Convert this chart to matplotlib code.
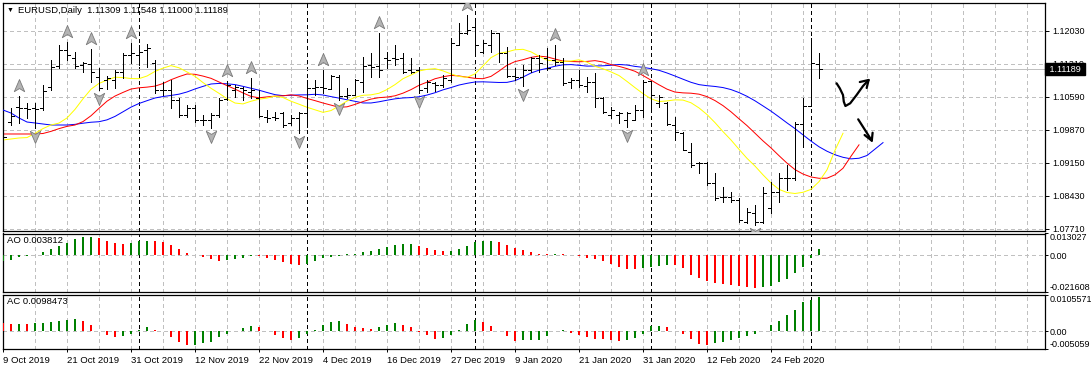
import numpy as np
import matplotlib
matplotlib.use("Agg")
import matplotlib.pyplot as plt
from matplotlib.path import Path
import matplotlib.transforms as mtransforms

plt.rcParams['font.family'] = ['Liberation Sans', 'DejaVu Sans']

# ---------------- data ----------------
date_labels = ['9 Oct 2019', '21 Oct 2019', '31 Oct 2019', '12 Nov 2019', '22 Nov 2019',
               '4 Dec 2019', '16 Dec 2019', '27 Dec 2019', '9 Jan 2020', '21 Jan 2020',
               '31 Jan 2020', '12 Feb 2020', '24 Feb 2020']
date_bars = [0, 8, 16, 24, 32, 40, 48, 56, 64, 72, 80, 88, 96]
month_separators = [17, 38, 59, 81, 101]

opens = [1.09752, 1.10035, 1.10362, 1.10340, 1.10340, 1.10340, 1.10798, 1.11256, 1.11605, 1.11431,
         1.11278, 1.11300, 1.11016, 1.10951, 1.10951, 1.11125, 1.11496, 1.11496, 1.11605, 1.11322,
         1.10733, 1.10733, 1.10515, 1.10188, 1.10340, 1.10079, 1.10079, 1.10188, 1.10537, 1.10733,
         1.10777, 1.10689, 1.10559, 1.10144, 1.10144, 1.10231, 1.10014, 1.10123, 1.10231, 1.10777,
         1.10798, 1.10755, 1.11016, 1.10602, 1.10624, 1.10907, 1.11278, 1.11256, 1.11431, 1.11431,
         1.11431, 1.11169, 1.11169, 1.10777, 1.10886, 1.10842, 1.10951, 1.11714, 1.11976, 1.12106,
         1.11561, 1.11714, 1.11976, 1.11540, 1.11038, 1.11016, 1.11169, 1.11431, 1.11431, 1.11387,
         1.11343, 1.10907, 1.10951, 1.10820, 1.10907, 1.10559, 1.10188, 1.10188, 1.10079, 1.10079,
         1.10297, 1.10929, 1.10449, 1.10449, 1.09970, 1.09796, 1.09381, 1.09141, 1.09141, 1.08706,
         1.08401, 1.08401, 1.08335, 1.07855, 1.08052, 1.07855, 1.08161, 1.08509, 1.08815, 1.08815,
         1.09992, 1.10384, 1.11309]
highs = [1.09905, 1.10340, 1.10602, 1.10449, 1.10449, 1.10842, 1.11387, 1.11714, 1.11779, 1.11561,
         1.11343, 1.11627, 1.11213, 1.11038, 1.11169, 1.11540, 1.11758, 1.11714, 1.11736, 1.11387,
         1.10907, 1.10951, 1.10559, 1.10406, 1.10406, 1.10188, 1.10231, 1.10559, 1.10929, 1.10842,
         1.10798, 1.10995, 1.10733, 1.10297, 1.10253, 1.10253, 1.10188, 1.10253, 1.10951, 1.10951,
         1.11169, 1.11060, 1.11060, 1.10777, 1.10973, 1.11452, 1.11540, 1.11976, 1.11561, 1.11714,
         1.11540, 1.11431, 1.11234, 1.10951, 1.10907, 1.11060, 1.11867, 1.12194, 1.12368, 1.12259,
         1.11823, 1.12041, 1.11976, 1.11670, 1.11213, 1.11278, 1.11452, 1.11496, 1.11649, 1.11714,
         1.11431, 1.10995, 1.11169, 1.11016, 1.11104, 1.10580, 1.10362, 1.10253, 1.10253, 1.10406,
         1.10951, 1.10886, 1.10624, 1.10471, 1.10144, 1.09817, 1.09578, 1.09163, 1.09163, 1.08923,
         1.08619, 1.08509, 1.08379, 1.08161, 1.08226, 1.08619, 1.08727, 1.08923, 1.09098, 1.10035,
         1.10559, 1.11867, 1.11548]
lows = [1.09534, 1.09970, 1.10014, 1.10123, 1.09905, 1.10297, 1.10733, 1.11213, 1.11387, 1.11213,
        1.11125, 1.10907, 1.10733, 1.10755, 1.10777, 1.10995, 1.11322, 1.11278, 1.11234, 1.10668,
        1.10624, 1.10340, 1.10144, 1.10144, 1.10035, 1.09970, 1.09905, 1.10144, 1.10515, 1.10580,
        1.10515, 1.10559, 1.10144, 1.10035, 1.10079, 1.09926, 1.09970, 1.09796, 1.09926, 1.10624,
        1.10668, 1.10755, 1.10515, 1.10559, 1.10624, 1.10689, 1.11016, 1.11016, 1.11213, 1.11278,
        1.11104, 1.11104, 1.10668, 1.10689, 1.10711, 1.10798, 1.10907, 1.11714, 1.11954, 1.11561,
        1.11540, 1.11561, 1.11343, 1.11016, 1.10951, 1.10820, 1.11125, 1.11125, 1.11169, 1.11278,
        1.10842, 1.10777, 1.10798, 1.10689, 1.10362, 1.10231, 1.10123, 1.10014, 1.09926, 1.10079,
        1.10144, 1.10340, 1.10362, 1.09970, 1.09643, 1.09425, 1.09054, 1.08923, 1.08662, 1.08335,
        1.08291, 1.08291, 1.07855, 1.07834, 1.07790, 1.07834, 1.08052, 1.08291, 1.08553, 1.08771,
        1.09490, 1.10384, 1.11000]
closes = [1.09708, 1.10166, 1.10340, 1.10319, 1.10319, 1.10711, 1.11234, 1.11605, 1.11496, 1.11256,
          1.11322, 1.11125, 1.10777, 1.10995, 1.11125, 1.11496, 1.11540, 1.11561, 1.11649, 1.10733,
          1.10733, 1.10515, 1.10188, 1.10340, 1.10079, 1.10079, 1.10188, 1.10515, 1.10842, 1.10798,
          1.10733, 1.10733, 1.10166, 1.10123, 1.10123, 1.09970, 1.10123, 1.10231, 1.10777, 1.10798,
          1.10777, 1.11038, 1.10602, 1.10624, 1.10951, 1.11256, 1.11234, 1.11169, 1.11387, 1.11409,
          1.11125, 1.11125, 1.10733, 1.10907, 1.10842, 1.10995, 1.11758, 1.11976, 1.12041, 1.11714,
          1.11758, 1.11976, 1.11540, 1.11038, 1.11016, 1.11169, 1.11431, 1.11322, 1.11213, 1.11343,
          1.10886, 1.10951, 1.10842, 1.10907, 1.10559, 1.10253, 1.10297, 1.10231, 1.10231, 1.10297,
          1.10907, 1.10624, 1.10580, 1.09992, 1.09817, 1.09425, 1.09098, 1.09141, 1.08706, 1.08379,
          1.08401, 1.08335, 1.07899, 1.08073, 1.07855, 1.08488, 1.08509, 1.08815, 1.08815, 1.09992,
          1.10384, 1.11322, 1.11189]

# Alligator lines: values shown before the first bar's own smoothing
jaw_start = [1.10297, 1.10231, 1.10123, 1.10035, 1.10014, 1.09992, 1.09970, 1.09970, 1.09970]
teeth_start = [1.09774, 1.09774, 1.09774, 1.09774, 1.09774, 1.09785]
lips_start = [1.09643, 1.09665, 1.09687, 1.09696]

up_fractals = [2, 8, 11, 16, 28, 31, 40, 47, 58, 69, 80]
down_fractals = [4, 12, 26, 37, 42, 52, 65, 78, 94]

ao = [-0.0032, -0.0026, -0.0008, -0.0002, 0.0002, 0.0020, 0.0036, 0.0056, 0.0074, 0.0100,
      0.0108, 0.0112, 0.0104, 0.0088, 0.0076, 0.0068, 0.0076, 0.0084, 0.0088, 0.0084,
      0.0082, 0.0062, 0.0038, 0.0014, 0.0002, -0.0012, -0.0024, -0.0032, -0.0028, -0.0020,
      -0.0014, -0.0004, -0.0006, -0.0014, -0.0026, -0.0038, -0.0050, -0.0056, -0.0052, -0.0034,
      -0.0018, -0.0008, -0.0004, 0.0008, 0.0010, 0.0018, 0.0024, 0.0036, 0.0048, 0.0064,
      0.0068, 0.0070, 0.0056, 0.0044, 0.0032, 0.0026, 0.0028, 0.0038, 0.0056, 0.0078,
      0.0084, 0.0088, 0.0080, 0.0064, 0.0046, 0.0032, 0.0020, 0.0009, 0.0007, 0.0008,
      0.0006, 0.0002, -0.0002, -0.0014, -0.0020, -0.0036, -0.0052, -0.0068, -0.0080, -0.0084,
      -0.0078, -0.0072, -0.0064, -0.0056, -0.0058, -0.0074, -0.0118, -0.0136, -0.0152, -0.0168,
      -0.0174, -0.0178, -0.0184, -0.0192, -0.0194, -0.0188, -0.0182, -0.0162, -0.0142, -0.0106,
      -0.0072, -0.0016, 0.003812]
ac = [0.00238, 0.00209, 0.00219, 0.00209, 0.00228, 0.00248, 0.00276, 0.00305, 0.00333, 0.00362,
      0.00305, 0.00190, 0.00010, -0.00114, -0.00171, -0.00143, -0.00076, 0.00029, 0.00114, 0.00038,
      0.00010, -0.00171, -0.00305, -0.00400, -0.00381, -0.00333, -0.00305, -0.00171, -0.00076, 0.00010,
      0.00095, 0.00143, 0.00114, 0.00019, -0.00114, -0.00190, -0.00238, -0.00190, -0.00076, 0.00029,
      0.00190, 0.00267, 0.00295, 0.00209, 0.00133, 0.00095, 0.00076, 0.00133, 0.00190, 0.00228,
      0.00190, 0.00114, -0.00010, -0.00114, -0.00209, -0.00190, -0.00114, 0.00038, 0.00219, 0.00324,
      0.00257, 0.00162, 0.0, -0.00143, -0.00267, -0.00257, -0.00248, -0.00238, -0.00143, 0.00019,
      0.00029, -0.00057, -0.00095, -0.00152, -0.00209, -0.00228, -0.00238, -0.00267, -0.00248, -0.00190,
      -0.00076, 0.00143, 0.00152, 0.00133, 0.00019, -0.00076, -0.00219, -0.00352, -0.00381, -0.00333,
      -0.00305, -0.00238, -0.00190, -0.00124, -0.00076, 0.00019, 0.00190, 0.00305, 0.00476, 0.00619,
      0.00838, 0.00904, 0.0098473]
ao_first_rising = True
ac_first_rising = False

price_ticks = [1.12030, 1.11310, 1.10590, 1.09870, 1.09150, 1.08430, 1.07710]
price_range = (1.07659, 1.12630)
ao_range = (-0.021608, 0.013027)
ac_range = (-0.005059, 0.0105571)
ao_tick_labels = ['0.013027', '0.00', '-0.021608']
ac_tick_labels = ['0.0105571', '0.00', '-0.005059']
bid = 1.11189
header = 'EURUSD,Daily  1.11309 1.11548 1.11000 1.11189'

# hand-drawn arrows (bar index, price)
swoosh_x = [104.2, 104.6, 105.0, 105.1, 105.3, 105.9, 106.7, 107.5, 108.2]
swoosh_y = [1.10879, 1.10770, 1.10624, 1.10478, 1.10384, 1.10443, 1.10624, 1.10820, 1.10951]
swoosh_head_x = [107.1, 108.2, 107.96]
swoosh_head_y = [1.10907, 1.10951, 1.10777]
down_x = [106.9, 108.6]
down_y = [1.10094, 1.09628]
down_head_x = [107.7, 108.6, 108.7]
down_head_y = [1.09752, 1.09628, 1.09802]

# ---------------- derived ----------------
opens, highs, lows, closes = map(np.array, (opens, highs, lows, closes))
n = len(closes)
xb = np.arange(n)
median = (highs + lows) / 2.0


def smma(start, period):
    out = list(start)
    s = start[-1]
    for m in median[1:]:
        s = (s * (period - 1) + m) / period
        out.append(s)
    return np.array(out)


jaw = smma(jaw_start, 13)
teeth = smma(teeth_start, 8)
lips = smma(lips_start, 5)

W, H = 1091, 370
fig = plt.figure(figsize=(W / 100, H / 100), dpi=100)
fig.patch.set_facecolor('white')


def ax_rect(top_px, bot_px, left_px=2.5, right_px=1045):
    return [left_px / W, 1 - bot_px / H, (right_px - left_px) / W, (bot_px - top_px) / H]


ax = fig.add_axes(ax_rect(3, 231))
ax_ao = fig.add_axes(ax_rect(233.5, 291.5))
ax_ac = fig.add_axes(ax_rect(294.5, 349))

LW = 0.72
FS = 6.5
xlim = (-0.0625, 130.25)
grid_kw = dict(color='#c0c0c0', lw=LW, linestyle=(0, (3, 3)), antialiased=False, zorder=0)
sep_kw = dict(color='black', lw=LW, linestyle=(0, (3, 3)), antialiased=False, zorder=1)
vgrid = np.arange(0, 131, 4)

for a in (ax, ax_ao, ax_ac):
    a.set_xlim(*xlim)
    for s in a.spines.values():
        s.set_color('black')
        s.set_linewidth(0.9)
    for v in vgrid:
        a.axvline(v, **grid_kw)
    for v in month_separators:
        a.axvline(v, **sep_kw)
    a.yaxis.tick_right()
    a.tick_params(axis='y', direction='out', length=3, width=0.7, pad=2, labelsize=FS)
    a.tick_params(axis='x', bottom=False, labelbottom=False)

# ---- main price panel ----
ax.set_ylim(*price_range)
for p in price_ticks:
    ax.axhline(p, **grid_kw)
ax.axhline(bid, color='#c0c0c0', lw=LW, zorder=1, antialiased=False)

ax.plot(np.arange(len(jaw)), jaw, color='#0000ff', lw=LW, zorder=3)
ax.plot(np.arange(len(teeth)), teeth, color='#ff0000', lw=LW, zorder=3)
ax.plot(np.arange(len(lips)), lips, color='#ffff00', lw=LW, zorder=3)

tw = 0.38
ax.vlines(xb, lows, highs, color='black', lw=LW, zorder=4, antialiased=False)
ax.hlines(opens, xb - tw, xb, color='black', lw=LW, zorder=4, antialiased=False)
ax.hlines(closes, xb, xb + tw, color='black', lw=LW, zorder=4, antialiased=False)

up_m = Path([(0, 1), (0.75, -0.75), (0, -0.3), (-0.75, -0.75), (0, 1)],
            [Path.MOVETO, Path.LINETO, Path.LINETO, Path.LINETO, Path.CLOSEPOLY])
dn_m = Path([(0, -1), (0.75, 0.75), (0, 0.3), (-0.75, 0.75), (0, -1)],
            [Path.MOVETO, Path.LINETO, Path.LINETO, Path.LINETO, Path.CLOSEPOLY])
uf = np.array(up_fractals)
df = np.array(down_fractals)
ax.plot(uf, highs[uf] + 0.0022, ls='none', marker=up_m, ms=10, mfc='#b4b4b4', mec='#7a7a7a',
        mew=0.6, zorder=5)
ax.plot(df, lows[df] - 0.0017, ls='none', marker=dn_m, ms=10, mfc='#b4b4b4', mec='#7a7a7a',
        mew=0.6, zorder=5)

ax.set_yticks(price_ticks)
ax.set_yticklabels(['%.5f' % p for p in price_ticks])

arrow_kw = dict(color='black', lw=1.6, solid_capstyle='round', solid_joinstyle='round', zorder=6)
ax.plot(swoosh_x, swoosh_y, **arrow_kw)
ax.plot(swoosh_head_x, swoosh_head_y, **arrow_kw)
ax.plot(down_x, down_y, **arrow_kw)
ax.plot(down_head_x, down_head_y, **arrow_kw)

trans = mtransforms.blended_transform_factory(ax.transAxes, ax.transData)
ax.text(1.002, bid, ' 1.11189 ', transform=trans, color='white', fontsize=FS, va='center',
        ha='left', clip_on=False, zorder=10,
        bbox=dict(boxstyle='square,pad=0.2', fc='black', ec='black'))

fig.text(7 / W, 1 - 10.5 / H, '\u25bc', fontsize=5, va='center', ha='left', color='black')
fig.text(18 / W, 1 - 10.5 / H, header, fontsize=FS + 0.3, va='center', ha='left', color='black')


# ---- AO / AC panels ----
def osc(a, vals, first_rising, yr, ticklabels, label):
    vals = np.array(vals)
    rising = np.empty(len(vals), dtype=bool)
    rising[0] = first_rising
    rising[1:] = vals[1:] > vals[:-1]
    cols = np.where(rising, '#008000', '#ff0000')
    a.vlines(np.arange(len(vals)), 0, vals, colors=cols, lw=1.3, zorder=3, antialiased=False)
    a.set_ylim(*yr)
    a.axhline(0, **grid_kw)
    a.set_yticks([yr[1], 0.0, yr[0]])
    a.set_yticklabels(ticklabels)
    a.tick_params(axis='y', length=2, pad=1.2)
    labs = a.get_yticklabels()
    labs[0].set_va('top')
    labs[2].set_va('bottom')
    a.text(0.0045, 0.96, label, transform=a.transAxes, fontsize=FS + 0.3, va='top', ha='left')


osc(ax_ao, ao, ao_first_rising, ao_range, ao_tick_labels, 'AO 0.003812')
osc(ax_ac, ac, ac_first_rising, ac_range, ac_tick_labels, 'AC 0.0098473')

ax_ac.set_xticks(date_bars)
ax_ac.set_xticklabels(date_labels)
ax_ac.tick_params(axis='x', bottom=True, labelbottom=True, direction='out', length=2,
                  width=0.7, pad=3, labelsize=FS + 0.3)
for t in ax_ac.get_xticklabels():
    t.set_ha('left')

fig.savefig('out.png', dpi=100, facecolor='white')
